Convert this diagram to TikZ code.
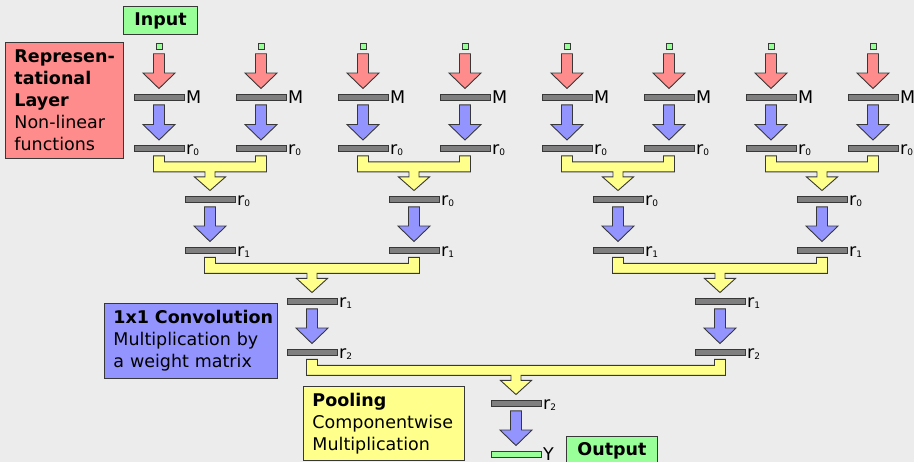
\documentclass[tikz,border=0pt]{standalone}
\usepackage{fontspec}
\setmainfont{DejaVu Sans}
\usetikzlibrary{calc}

\definecolor{bgcol}{HTML}{ECECEC}
\definecolor{repcol}{HTML}{FF8C8C}
\definecolor{convcol}{HTML}{9494FF}
\definecolor{poolcol}{HTML}{FFFF8C}
\definecolor{iocol}{HTML}{99FF99}
\definecolor{barcol}{HTML}{7F7F7F}
\definecolor{edgecol}{HTML}{383838}

\newcommand\diagfont{\fontsize{17.5}{22}\selectfont}
\newcommand\rsub[1]{r\raisebox{-1pt}{\fontsize{9}{9}\selectfont #1}}

% block arrow from one node down to the next
\newcommand\flowarrow[3]{%
  \filldraw[#1] let \p1=($(#2.south)+(0,4.5)$), \p2=($(#3.north)+(0,-5)$) in
    (\x1-5.5pt,\y1) -- (\x1-5.5pt,\y2+15.5pt) -- (\x1-16pt,\y2+15.5pt) -- (\x1,\y2)
    -- (\x1+16pt,\y2+15.5pt) -- (\x1+5.5pt,\y2+15.5pt) -- (\x1+5.5pt,\y1) -- cycle;}

% yellow bracket joining two bars into one
\newcommand\mergearrow[3]{%
  \filldraw[pool] let \p1=($(#1.south)+(0,4)$), \p2=(#2.south), \p3=($(#3.north)+(0,-5)$) in
    (\x1-5.5pt,\y1) -- (\x1+5.5pt,\y1) -- (\x1+5.5pt,\y1-6pt) -- (\x2-5.5pt,\y1-6pt)
    -- (\x2-5.5pt,\y1) -- (\x2+5.5pt,\y1) -- (\x2+5.5pt,\y1-16pt) -- (\x3+5pt,\y1-16pt)
    -- (\x3+5pt,\y1-21pt) -- (\x3+15.5pt,\y1-21pt) -- (\x3,\y3) -- (\x3-15.5pt,\y1-21pt)
    -- (\x3-5pt,\y1-21pt) -- (\x3-5pt,\y1-16pt) -- (\x1-5.5pt,\y1-16pt) -- cycle;}

\tikzset{
  bar/.style={rectangle, draw=edgecol, fill=barcol, line width=0.9pt,
    minimum width=50pt, minimum height=6pt, inner sep=0pt},
  outbar/.style={bar, fill=iocol},
  inbox/.style={rectangle, draw=edgecol, fill=iocol, line width=0.6pt,
    minimum size=6pt, inner sep=0pt},
  lbl/.style={font=\diagfont, inner xsep=1.5pt, inner ysep=0pt, text height=12.8pt, text depth=0pt},
  infobox/.style={rectangle, draw=edgecol, line width=0.9pt, anchor=north west,
    align=left, inner xsep=9pt, inner ysep=0pt, font=\diagfont},
  tagbox/.style={rectangle, draw=edgecol, fill=iocol, line width=0.9pt,
    anchor=north west, inner sep=0pt, font=\diagfont\bfseries},
  rep/.style={fill=repcol, draw=edgecol, line width=0.9pt},
  conv/.style={fill=convcol, draw=edgecol, line width=0.9pt},
  pool/.style={fill=poolcol, draw=edgecol, line width=0.9pt}
}

\begin{document}
\begin{tikzpicture}[x=1pt, y=-1pt]
    \fill[bgcol] (0,0) rectangle (914,462);
    \useasboundingbox (0,0) rectangle (914,462);

    % representational layer
    \foreach \i in {0,...,7} {
        \pgfmathsetmacro\xx{159+102*\i}
        \node[inbox] (in\i) at (\xx,46) {};
        \node[bar, label={[lbl]right:M}] (m\i) at (\xx,97) {};
        \node[bar, label={[lbl]right:\rsub{0}}] (a\i) at (\xx,148.5) {};
        \flowarrow{rep}{in\i}{m\i}
        \flowarrow{conv}{m\i}{a\i}
    }

    % first pooling
    \foreach \j/\l/\r in {0/0/1, 1/2/3, 2/4/5, 3/6/7} {
        \pgfmathsetmacro\xx{210+204*\j}
        \node[bar, label={[lbl]right:\rsub{0}}] (b\j) at (\xx,199) {};
        \node[bar, label={[lbl]right:\rsub{1}}] (c\j) at (\xx,250) {};
        \mergearrow{a\l}{a\r}{b\j}
        \flowarrow{conv}{b\j}{c\j}
    }

    % second pooling
    \foreach \k/\l/\r in {0/0/1, 1/2/3} {
        \pgfmathsetmacro\xx{312+408*\k}
        \node[bar, label={[lbl]right:\rsub{1}}] (d\k) at (\xx,301) {};
        \node[bar, label={[lbl]right:\rsub{2}}] (e\k) at (\xx,352) {};
        \mergearrow{c\l}{c\r}{d\k}
        \flowarrow{conv}{d\k}{e\k}
    }

    % output
    \node[bar, label={[lbl]right:\rsub{2}}] (f) at (516,403) {};
    \node[outbar, label={[lbl]right:Y}] (y) at (516,454) {};
    \mergearrow{e0}{e1}{f}
    \flowarrow{conv}{f}{y}

    % legend boxes
    \node[tagbox, minimum width=74pt, minimum height=28pt] (input) at (123,6) {Input};
    \node[tagbox, minimum width=91pt, minimum height=28pt] (output) at (566,436) {Output};
    \node[infobox, fill=repcol, text width=100pt, minimum height=116pt] (replayer) at (5,42)
        {\textbf{\mbox{Represen-}}\\\textbf{tational}\\\textbf{Layer}\\Non-linear\\functions};
    \node[infobox, fill=convcol, text width=155pt, minimum height=75pt] (convlayer) at (104,303)
        {\textbf{\mbox{1x1 Convolution}}\\Multiplication by\\a weight matrix};
    \node[infobox, fill=poolcol, text width=143pt, minimum height=74pt] (poollayer) at (303,386)
        {\textbf{Pooling}\\Componentwise\\Multiplication};
\end{tikzpicture}
\end{document}
